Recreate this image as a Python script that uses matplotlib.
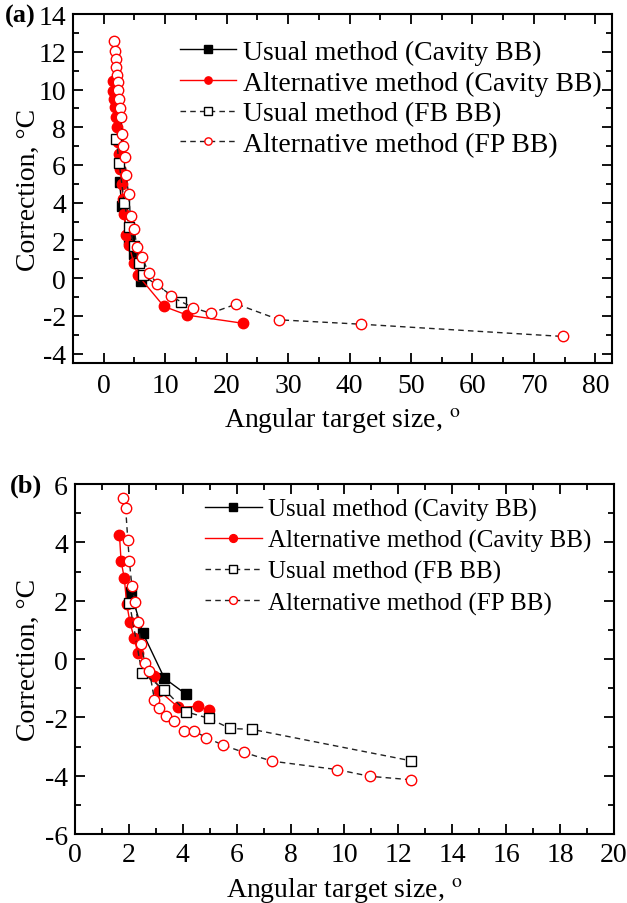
import matplotlib
matplotlib.use('Agg')
import matplotlib.pyplot as plt
from matplotlib.ticker import MultipleLocator

plt.rcParams['font.family'] = ['Liberation Serif', 'DejaVu Serif']
plt.rcParams['mathtext.fontset'] = 'stix'
plt.rcParams['axes.unicode_minus'] = False

# panel (a)
a_usual_cav_x = [2.57, 2.95, 4.04, 4.96, 6.04]
a_usual_cav_y = [5.11, 3.80, 2.10, 1.27, -0.14]
a_alt_cav_x = [1.44, 1.5, 1.6, 1.87, 2.03, 2.14, 2.36, 2.52, 2.68, 2.9, 3.12, 3.33,
               3.66, 4.15, 4.85, 5.56, 9.8, 13.6, 22.6]
a_alt_cav_y = [10.47, 9.94, 9.5, 9.09, 8.53, 7.99, 7.2, 6.58, 5.78, 4.99, 4.19, 3.4,
               2.28, 1.75, 0.83, 0.16, -1.5, -1.96, -2.39]
a_usual_fb_x = [2.03, 2.52, 3.33, 4.15, 4.96, 5.77, 6.37, 12.55]
a_usual_fb_y = [7.39, 6.10, 4.01, 2.72, 1.71, 0.83, 0.16, -1.26]
a_alt_fp_x = [1.71, 1.87, 1.98, 2.03, 2.14, 2.25, 2.3, 2.41, 2.57, 2.79, 3.0, 3.17,
              3.39, 3.66, 4.04, 4.36, 4.96, 5.4, 6.26, 7.29, 8.75, 10.9, 14.6, 17.4,
              21.6, 28.6, 41.8, 74.7]
a_alt_fp_y = [12.56, 12.06, 11.62, 11.21, 10.77, 10.38, 9.97, 9.5, 9.0, 8.56, 7.64, 6.99,
              6.40, 5.46, 4.46, 3.27, 2.60, 1.63, 1.10, 0.3, -0.32, -0.97, -1.57, -1.86,
              -1.37, -2.21, -2.44, -3.09]

# panel (b)
b_usual_cav_x = [2.07, 2.52, 3.32, 4.13]
b_usual_cav_y = [2.31, 0.89, -0.66, -1.21]
b_alt_cav_x = [1.65, 1.71, 1.83, 1.92, 2.04, 2.19, 2.33, 2.94, 3.13, 3.84, 4.56, 4.96]
b_alt_cav_y = [4.25, 3.37, 2.77, 1.89, 1.26, 0.74, 0.21, -0.57, -1.09, -1.66, -1.62, -1.75]
b_usual_fb_x = [2.02, 2.48, 3.32, 4.13, 4.96, 5.76, 6.57, 12.48]
b_usual_fb_y = [1.94, -0.46, -1.05, -1.81, -2.03, -2.38, -2.41, -3.49]
b_alt_fp_x = [1.77, 1.88, 1.96, 2.02, 2.11, 2.23, 2.33, 2.45, 2.6, 2.76, 2.95, 3.13,
              3.38, 3.68, 4.03, 4.40, 4.87, 5.49, 6.27, 7.31, 9.73, 10.94, 12.48]
b_alt_fp_y = [5.51, 5.18, 4.08, 3.35, 2.51, 1.96, 1.28, 0.51, -0.15, -0.4, -1.40, -1.68,
              -1.94, -2.14, -2.46, -2.46, -2.69, -2.95, -3.2, -3.5, -3.79, -4.02, -4.14]

labels = ['Usual method (Cavity BB)', 'Alternative method (Cavity BB)',
          'Usual method (FB BB)', 'Alternative method (FP BB)']

fig = plt.figure(figsize=(6.27, 9.04), dpi=100)
ax1 = fig.add_axes([0.1164, 0.5973, 0.8596, 0.386])
ax2 = fig.add_axes([0.1196, 0.0763, 0.8596, 0.387])


def draw(ax, series):
    (x1, y1), (x2, y2), (x3, y3), (x4, y4) = series
    ms = 7.5
    ax.plot(x1, y1, '-', color='black', lw=1, marker='s', ms=ms, mfc='black', mec='black',
            label=labels[0], zorder=3)
    ax.plot(x2, y2, '-', color='red', lw=1, marker='o', ms=ms, mfc='red', mec='red',
            label=labels[1], zorder=3)
    ax.plot(x3, y3, '--', color='#222222', lw=1, dashes=(4, 3), marker='s', ms=ms,
            mfc='white', mec='black', mew=1, label=labels[2], zorder=4)
    ax.plot(x4, y4, '--', color='#222222', lw=1, dashes=(4, 3), marker='o', ms=ms,
            mfc='white', mec='red', mew=1, label=labels[3], zorder=4)


draw(ax1, [(a_usual_cav_x, a_usual_cav_y), (a_alt_cav_x, a_alt_cav_y),
           (a_usual_fb_x, a_usual_fb_y), (a_alt_fp_x, a_alt_fp_y)])
draw(ax2, [(b_usual_cav_x, b_usual_cav_y), (b_alt_cav_x, b_alt_cav_y),
           (b_usual_fb_x, b_usual_fb_y), (b_alt_fp_x, b_alt_fp_y)])

ax1.set_xlim(-5, 82.7)
ax1.set_ylim(-4.5, 14)
ax1.xaxis.set_major_locator(MultipleLocator(10))
ax1.xaxis.set_minor_locator(MultipleLocator(5))
ax1.yaxis.set_major_locator(MultipleLocator(2))
ax1.yaxis.set_minor_locator(MultipleLocator(1))

ax2.set_xlim(0, 20)
ax2.set_ylim(-6, 6)
ax2.xaxis.set_major_locator(MultipleLocator(2))
ax2.xaxis.set_minor_locator(MultipleLocator(1))
ax2.yaxis.set_major_locator(MultipleLocator(2))
ax2.yaxis.set_minor_locator(MultipleLocator(1))

for ax in (ax1, ax2):
    for s in ax.spines.values():
        s.set_linewidth(1.5)
    ax.tick_params(which='both', direction='in', top=True, right=True,
                   labelsize=20, width=1.3)
    ax.tick_params(which='major', length=7)
    ax.tick_params(which='minor', length=4)
    ax.tick_params(axis='y', pad=5)
    ax.set_xlabel(r'Angular target size, $^\mathrm{o}$', fontsize=20, labelpad=5.3)
    ax.set_ylabel('Correction, °C', fontsize=20)

ax1.tick_params(axis='x', pad=7)
ax2.tick_params(axis='x', pad=6)
ax1.yaxis.set_label_coords(-0.06, 0.5)
ax2.yaxis.set_label_coords(-0.063, 0.5)

ax1.legend(bbox_to_anchor=(0.1985, 0.927), loc='upper left', frameon=False, fontsize=20,
           handlelength=2.0, handletextpad=0.27, labelspacing=0.19, borderpad=0,
           borderaxespad=0, markerscale=0.7)
ax2.legend(bbox_to_anchor=(0.241, 0.96), loc='upper left', frameon=False, fontsize=18,
           handlelength=2.28, handletextpad=0.24, labelspacing=0.32, borderpad=0,
           borderaxespad=0, markerscale=0.75)

fig.text(0.008, 0.982, '(a)', fontsize=19, fontweight='bold', va='center')
fig.text(0.016, 0.462, '(b)', fontsize=19, fontweight='bold', va='center')

fig.savefig('out.png', dpi=100)
